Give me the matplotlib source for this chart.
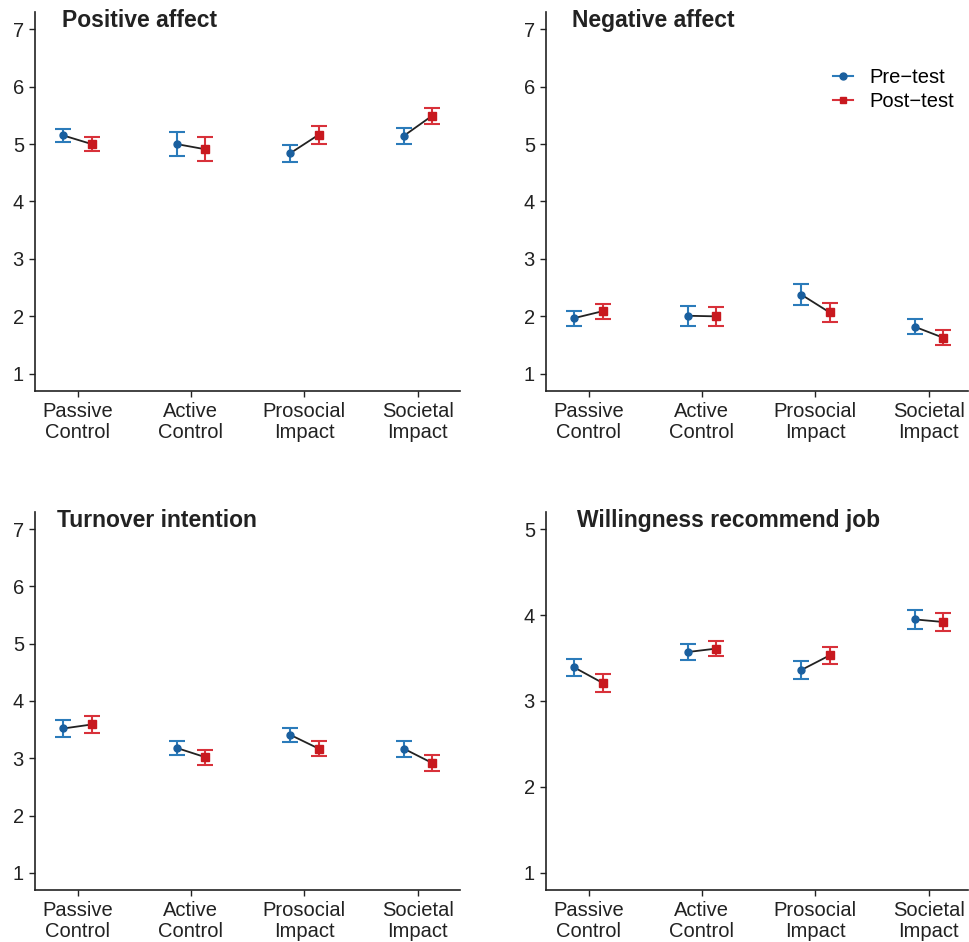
import matplotlib
matplotlib.use("Agg")
import matplotlib.pyplot as plt
from matplotlib.lines import Line2D

plt.rcParams["font.family"] = ["Liberation Sans", "DejaVu Sans"]
plt.rcParams["font.size"] = 14

groups = ["Passive\nControl", "Active\nControl", "Prosocial\nImpact", "Societal\nImpact"]

pos_pre = [5.15, 5.00, 4.84, 5.14]
pos_pre_se = [0.12, 0.21, 0.15, 0.14]
pos_post = [5.00, 4.91, 5.16, 5.49]
pos_post_se = [0.12, 0.21, 0.15, 0.14]

neg_pre = [1.97, 2.01, 2.38, 1.82]
neg_pre_se = [0.13, 0.17, 0.175, 0.13]
neg_post = [2.09, 2.00, 2.07, 1.63]
neg_post_se = [0.13, 0.17, 0.17, 0.13]

turn_pre = [3.52, 3.18, 3.41, 3.17]
turn_pre_se = [0.15, 0.13, 0.125, 0.14]
turn_post = [3.59, 3.02, 3.17, 2.92]
turn_post_se = [0.15, 0.13, 0.13, 0.14]

rec_pre = [3.39, 3.57, 3.36, 3.95]
rec_pre_se = [0.10, 0.09, 0.10, 0.11]
rec_post = [3.21, 3.61, 3.53, 3.92]
rec_post_se = [0.10, 0.09, 0.10, 0.11]

panels = [
    ("Positive affect", pos_pre, pos_pre_se, pos_post, pos_post_se, (1, 7)),
    ("Negative affect", neg_pre, neg_pre_se, neg_post, neg_post_se, (1, 7)),
    ("Turnover intention", turn_pre, turn_pre_se, turn_post, turn_post_se, (1, 7)),
    ("Willingness recommend job", rec_pre, rec_pre_se, rec_post, rec_post_se, (1, 5)),
]

W, H = 969, 942
# axes boxes in pixels: left, top, right, bottom
boxes = [(35, 12, 460, 391), (546, 12, 968, 391), (35, 512, 460, 890), (546, 512, 968, 890)]
title_dx = [27, 26, 22, 31]

BLUE_BAR, BLUE_PT = "#2b7bba", "#1a5f9e"
RED_BAR, RED_PT = "#d8313a", "#c8191f"
dodge = 0.125
unit = 113.4  # px per category

fig = plt.figure(figsize=(W / 100, H / 100), dpi=100)

for i, (title, pre, pre_se, post, post_se, (lo, hi)) in enumerate(panels):
    l, t, r, b = boxes[i]
    ax = fig.add_axes([l / W, 1 - b / H, (r - l) / W, (b - t) / H])
    x = list(range(1, len(groups) + 1))
    xp = [v - dodge for v in x]
    xq = [v + dodge for v in x]

    ax.errorbar(xp, pre, yerr=pre_se, fmt="none", ecolor=BLUE_BAR, elinewidth=1.5,
                capsize=6, capthick=1.5, zorder=2)
    ax.errorbar(xq, post, yerr=post_se, fmt="none", ecolor=RED_BAR, elinewidth=1.5,
                capsize=6, capthick=1.5, zorder=2)
    for a, bq, ya, yb in zip(xp, xq, pre, post):
        ax.plot([a, bq], [ya, yb], color="#222222", lw=1.3, zorder=3)
    ax.plot(xp, pre, "o", color=BLUE_PT, ms=5, ls="none", zorder=4)
    ax.plot(xq, post, "s", color=RED_PT, ms=5.5, ls="none", zorder=4)

    pad = 0.05 * (hi - lo)
    ax.set_ylim(lo - pad, hi + pad)
    ax.set_yticks(range(lo, hi + 1))
    ax.set_xlim(0.625, 0.625 + (r - l) / unit)
    ax.set_xticks(x)
    ax.set_xticklabels(groups, linespacing=1.15)
    ax.tick_params(axis="both", colors="#222222", labelcolor="#222222", width=1, length=4.5,
                   labelsize=14.5)
    for s in ["top", "right"]:
        ax.spines[s].set_visible(False)
    for s in ["left", "bottom"]:
        ax.spines[s].set_linewidth(1.2)
        ax.spines[s].set_color("#222222")

    ax.text(title_dx[i] / (r - l), 1 - 15 / (b - t), title, transform=ax.transAxes,
            ha="left", va="baseline", fontsize=16.5, fontweight="bold", color="#222222")

    if i == 1:
        handles = [
            Line2D([], [], color=BLUE_BAR, lw=1.5, marker="o", ms=5, mfc=BLUE_PT, mec=BLUE_PT),
            Line2D([], [], color=RED_BAR, lw=1.5, marker="s", ms=5, mfc=RED_PT, mec=RED_PT),
        ]
        ax.legend(handles, ["Pre\u2212test", "Post\u2212test"], loc="upper right",
                  bbox_to_anchor=(1.01, 0.9), frameon=False, handlelength=1.0,
                  handletextpad=0.8, labelspacing=0.25, fontsize=14.5)

fig.savefig("out.png", dpi=100)
